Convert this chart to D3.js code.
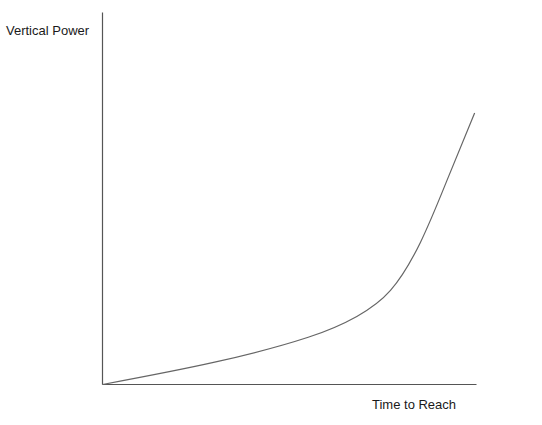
<!DOCTYPE html>
<html><head><meta charset="utf-8">
<script src="https://cdn.jsdelivr.net/npm/d3@7"></script>
<style>body{margin:0;background:#fff}svg{display:block}text{font-family:"Liberation Sans",Arial,sans-serif;font-size:13px;fill:#1a1a1a}</style>
</head><body>
<script>
const timeToReach = [0, 30, 55, 68, 77, 85, 92, 99.5];
const verticalPower = [0, 6, 12.7, 18.3, 25.3, 38.2, 54.6, 73];
const xLabel = "Time to Reach";
const yLabel = "Vertical Power";

const W = 542, H = 425;
const svg = d3.select("body").append("svg").attr("width", W).attr("height", H);
const x = d3.scaleLinear().domain([0, 100]).range([102.5, 476.5]);
const y = d3.scaleLinear().domain([0, 100]).range([384.5, 12.5]);

svg.append("line").attr("x1", x(0)).attr("x2", x(0)).attr("y1", y(0)).attr("y2", y(100))
  .attr("stroke", "#555").attr("stroke-width", 1.2);
svg.append("line").attr("x1", x(0)).attr("x2", x(100)).attr("y1", y(0)).attr("y2", y(0))
  .attr("stroke", "#555").attr("stroke-width", 1.2);

const pts = timeToReach.map((t, i) => [t, verticalPower[i]]);
svg.append("path").datum(pts)
  .attr("d", d3.line().x(d => x(d[0])).y(d => y(d[1])).curve(d3.curveNatural))
  .attr("fill", "none").attr("stroke", "#666").attr("stroke-width", 1.2);

svg.append("text").attr("x", 6).attr("y", 35).text(yLabel);
svg.append("text").attr("x", 372).attr("y", 409).text(xLabel);
</script>
</body></html>
